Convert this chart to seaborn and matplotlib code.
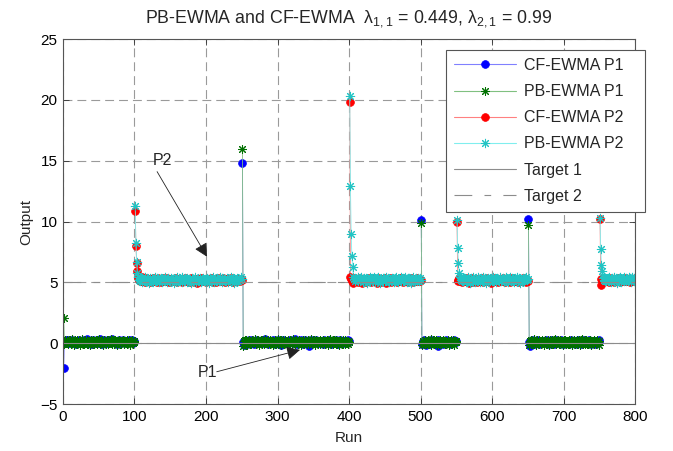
import numpy as np
import pandas as pd
import matplotlib
matplotlib.use("Agg")
import matplotlib.pyplot as plt
from matplotlib.lines import Line2D
import seaborn as sns

# ---- process schedule: (first run, last run) of each block ----
p1_blocks = [(1, 100), (251, 400), (501, 550), (651, 750)]
p2_blocks = [(101, 250), (401, 500), (551, 650), (751, 800)]

target_1 = 0.0
target_2 = 5.0

# ---- outputs, in hundredths above the process target, one string per block ----
cf_p1 = [
    """-200 15 8 22 4 11 30 9 -2 14 18 6 25 12 3 9 17 -5 10 21 7 13 28 5 16 11 -1 19 8 24
    14 2 35 10 6 20 13 9 -4 17 11 26 7 15 3 12 22 8 18 5 10 31 14 -3 9 19 6 23 12 16
    4 13 27 8 20 11 1 17 33 9 15 6 21 12 -6 14 10 25 7 18 3 16 11 29 8 13 20 5 -2 15
    9 24 12 7 18 10 22 4 14 11""",
    """1480 12 -18 5 20 9 14 -3 11 25 7 16 10 2 22 13 -5 18 8 12 28 6 15 11 -2 19 9 24 13 4
    17 10 31 7 14 -8 12 21 5 16 9 13 26 3 18 11 -4 15 8 22 12 6 19 14 -15 10 27 8 16 3
    13 20 9 -1 17 11 24 6 15 10 2 18 12 33 7 14 -6 20 9 13 16 4 22 11 -3 15 8 25 12 6
    19 10 14 -20 17 9 23 5 13 18 11 -2 16 28 8 14 10 3 21 12 7 17 -5 13 24 9 15 11 2 19
    12 30 6 16 -4 10 20 13 8 15 3 22 11 17 -9 14 9 26 12 5 18 10 15 -2 21 8 13 27 11 16""",
    """1015 -5 18 9 22 4 14 -12 11 20 7 15 -3 12 25 8 17 2 13 -8 19 10 6 23 -25 14 9 16 3 21
    11 -6 15 8 28 12 -2 17 10 5 20 13 -10 9 16 7 24 11 14 6""",
    """1020 8 -22 16 11 24 5 13 -4 19 10 14 27 7 -9 15 12 3 21 9 17 6 13 -2 25 11 8 18 -7 14
    10 22 4 16 12 -3 20 9 15 30 7 13 -1 18 11 24 6 14 -5 17 9 12 21 4 15 10 -8 19 13 7
    26 11 16 2 14 -4 20 8 12 23 5 17 10 -6 15 9 22 13 3 18 11 -2 16 8 27 12 6 14 -10 19
    10 15 4 21 12 -3 17 9 13 25""",
]

pb_p1 = [
    """210 -10 25 3 14 30 -8 18 6 22 -2 11 35 9 -12 20 4 16 28 -5 13 8 24 -15 19 10 32 1 15 -6
    21 7 12 27 -3 17 9 -18 23 14 5 29 -7 11 18 2 26 -10 16 8 33 -4 13 20 6 -14 24 10 17 -1
    28 12 -9 19 4 15 31 -6 22 9 14 -2 26 7 18 -11 12 30 3 16 -5 21 10 25 -8 14 19 2 27 -3
    11 23 6 -13 17 9 29 4 15 12""",
    """1600 -20 15 30 -5 22 8 -12 19 26 3 14 -9 28 11 -2 20 6 33 -7 16 24 1 -14 18 10 27 -4 13 21
    -10 9 31 5 17 -6 23 12 -1 29 8 15 -16 20 4 26 -3 11 18 35 -8 14 7 22 -11 16 30 2 -5 19
    25 9 -13 13 28 6 -2 21 10 -9 17 32 3 15 -7 24 11 -4 20 27 1 12 -15 18 8 29 -6 14 23 5
    -10 16 26 -3 19 9 31 -8 13 22 4 -12 17 28 7 -1 20 11 -6 25 14 2 30 -9 15 21 -4 10 27 6
    -13 18 12 33 -2 16 8 -10 24 19 3 26 -7 13 20 -15 11 29 5 17 -3 22 9 -8 28 14 1 19 -5 12""",
    """990 -15 20 8 -6 27 12 -10 18 4 25 -3 15 31 -12 9 22 2 -8 17 28 6 -14 13 19 -4 24 10 -9 16
    30 1 14 -7 21 11 -2 26 5 -11 18 23 -5 12 29 3 -13 20 9 15""",
    """970 -12 18 26 -4 14 8 31 -9 20 5 -16 23 11 -2 28 13 -7 17 24 2 -11 19 30 6 -5 15 22 -14 10
    27 -3 16 9 -8 25 12 33 -6 18 4 21 -10 14 29 -1 17 7 -13 23 11 26 -4 19 3 -9 24 15 -2 30
    8 -12 20 13 27 -6 16 1 22 -8 18 10 -15 25 6 32 -3 14 21 -10 12 28 -5 17 9 -1 24 -11 19 15
    3 26 -7 13 20 -4 29 10 -12 16""",
]

cf_p2 = [
    """590 300 160 90 38 22 15 30 8 25 44 12 20 35 5 18 27 10 31 16 24 2 29 14 19 36 9 22 13 28
    6 21 33 17 11 26 4 23 15 32 19 8 27 14 38 12 21 3 25 18 30 10 16 24 7 34 20 13 28 1
    22 17 31 9 26 15 5 29 19 12 36 23 8 21 14 27 2 18 33 11 25 16 6 30 20 13 24 -2 19 28
    10 22 35 15 7 26 18 12 31 4 23 17 29 9 21 14 37 11 25 6 19 28 13 3 24 16 32 10 20 15
    27 8 22 34 12 18 5 26 14 30 17 9 23 19 36 11 25 2 21 16 28 13 7 24 18 31 10 20 26 22""",
    """1480 40 30 12 25 -5 18 33 8 22 15 28 3 20 36 11 17 -2 26 14 9 31 19 6 24 13 38 10 21 16
    2 27 18 12 30 7 23 15 -4 20 34 11 25 17 5 29 14 21 8 32 19 -3 24 13 27 10 16 35 6 22
    18 28 9 14 31 20 2 25 12 17 37 8 23 15 -1 26 19 11 30 13 21 6 29 16 24 10 33 18 4 22
    14 27 9 20 32 12 17 25 7 19""",
    """500 10 22 35 10 27 15 4 30 18 12 25 38 8 20 14 29 -2 23 17 33 11 26 6 19 31 13 22 2 28
    16 9 24 36 12 20 5 27 15 21 10 32 18 7 25 14 30 -3 22 17 28 11 19 34 8 24 13 26 3 20
    16 29 10 23 37 12 18 6 27 15 21 9 31 17 4 25 14 33 11 19 26 7 22 15 30 -1 24 18 12 28
    20 13 35 10 23 16 5 27 19 14""",
    """520 -20 25 12 30 8 22 17 35 10 26 14 3 28 19 11 33 16 24 6 21 13 29 9 18 37 15 23 2 27 12
    20 31 7 25 16 10 34 19 14 22 28 5 18 26 11 30 17 23 36 40""",
]

pb_p2 = [
    """630 320 170 80 45 18 32 10 27 38 5 23 15 41 20 8 34 13 29 -3 24 36 11 19 30 2 26 43 14 21
    9 33 17 -1 28 22 39 6 25 16 31 12 44 19 3 27 35 10 22 15 37 7 24 30 -4 20 29 13 40 18
    8 33 23 11 26 42 1 21 16 34 14 28 5 38 19 25 9 31 -2 23 36 12 27 17 43 6 22 30 10 19
    26 35 3 24 14 39 18 7 29 21 11 32 25 -5 20 37 13 28 16 41 4 23 30 9 34 18 26 12 44 15
    21 2 36 19 27 8 31 14 24 38 6 29 17 22 40 11 25 33 -3 20 28 13 35 18 7 30 23 16 42 24""",
    """1530 790 400 220 130 48 25 36 12 30 18 41 7 27 33 15 44 22 3 29 38 11 24 35 -2 20 31 16 42 9
    26 37 14 23 45 5 28 19 34 10 40 21 30 -4 25 17 39 13 32 8 27 43 20 15 36 2 24 31 11 38
    19 28 6 34 22 46 14 25 -1 30 17 40 9 26 35 12 21 44 18 29 4 33 23 37 10 27 -3 31 16 42
    20 8 35 24 13 39 28 15 32 21""",
    """510 280 160 80 42 20 33 8 29 16 38 24 4 31 13 45 19 27 -2 35 10 22 40 15 28 6 36 21 12 43
    18 30 1 25 37 14 23 46 9 32 20 -4 27 39 16 24 11 34 29 7 41 22 15 33 26 3 38 18 30 12
    44 21 9 28 35 17 -1 24 40 13 31 6 26 19 42 23 10 36 15 29 2 34 20 27 45 11 25 38 -3 22
    30 14 37 18 8 32 26 41 16 24""",
    """530 270 145 90 38 22 44 15 30 8 27 36 12 41 19 25 3 33 17 46 10 28 21 39 -2 24 35 14 42 18
    6 31 26 13 44 20 37 9 29 23 40 16 32 5 27 43 19 34 11 25""",
]

series_names = ["CF-EWMA P1", "PB-EWMA P1", "CF-EWMA P2", "PB-EWMA P2"]


def to_frame(blocks, texts, target):
    rows = []
    for seg, ((start, stop), txt) in enumerate(zip(blocks, texts)):
        vals = [int(v) for v in txt.split()][: stop - start + 1]
        for k, v in enumerate(vals):
            rows.append((start + k, target + v / 100.0, seg))
    return pd.DataFrame(rows, columns=["run", "output", "seg"])


frames = [
    to_frame(p1_blocks, cf_p1, target_1),
    to_frame(p1_blocks, pb_p1, target_1),
    to_frame(p2_blocks, cf_p2, target_2),
    to_frame(p2_blocks, pb_p2, target_2),
]

# ---- styling ----
sns.set_theme(style="white")
plt.rcParams["font.family"] = ["Liberation Sans", "DejaVu Sans"]
plt.rcParams["mathtext.fontset"] = "custom"
plt.rcParams["mathtext.rm"] = "Liberation Sans"
plt.rcParams["mathtext.it"] = "Liberation Sans"

asterisk = (8, 2, 0)
styles = [
    dict(line="#8080ff", marker="o", mfc="#0000ff", mec="#0000ff", ms=5.6, mew=0.5),
    dict(line="#80c080", marker=asterisk, mfc="none", mec="#007000", ms=6.2, mew=0.75),
    dict(line="#ff8080", marker="o", mfc="#ff0000", mec="#ff0000", ms=5.6, mew=0.5),
    dict(line="#80eeee", marker=asterisk, mfc="none", mec="#22c4c4", ms=6.6, mew=0.75),
]
target2_dash = (0, (16, 11, 6, 11))

fig = plt.figure(figsize=(6.73, 4.51), dpi=100)
ax = fig.add_axes([0.0936, 0.1042, 0.85, 0.8093])

ax.set_xlim(0, 800)
ax.set_ylim(-5, 25)
ax.set_xticks(np.arange(0, 801, 100))
ax.set_yticks(np.arange(-5, 26, 5))
ax.grid(True, color="#9a9a9a", linestyle=(0, (8, 4.5)), linewidth=0.8)
ax.set_axisbelow(True)

for df, st in zip(frames, styles):
    sns.lineplot(
        data=df, x="run", y="output", units="seg", estimator=None, ax=ax,
        color=st["line"], linewidth=0.6, marker=st["marker"],
        markerfacecolor=st["mfc"], markeredgecolor=st["mec"],
        markersize=st["ms"], markeredgewidth=st["mew"], legend=False,
    )

ax.axhline(target_1, color="#8c8c8c", linewidth=0.8, linestyle="-")
ax.axhline(target_2, color="#8c8c8c", linewidth=0.8, linestyle=target2_dash)

# arrows naming the two processes
arrow_kw = dict(arrowstyle="-|>,head_length=0.9,head_width=0.45", color="#222222",
                lw=0.6, mutation_scale=9, shrinkA=0, shrinkB=0)
ax.text(139, 15.0, "P2", ha="center", va="center", fontsize=11.5)
ax.annotate("", xy=(201.5, 7.1), xytext=(131.6, 14.1), arrowprops=arrow_kw)
ax.text(202, -2.45, "P1", ha="center", va="center", fontsize=11.5)
ax.annotate("", xy=(331.5, -0.55), xytext=(215, -2.35), arrowprops=arrow_kw)

ax.set_title("PB-EWMA and CF-EWMA  λ$_{1,1}$ = 0.449, λ$_{2,1}$ = 0.99",
             fontsize=12.8, pad=12)
ax.set_xlabel("Run", fontsize=11, labelpad=5)
ax.set_ylabel("Output", fontsize=11, labelpad=5)

ax.tick_params(direction="in", length=4, width=0.6, colors="#333333",
               labelcolor="black", labelsize=11, top=True, right=True,
               bottom=True, left=True, pad=4)
for sp in ax.spines.values():
    sp.set_color("#555555")
    sp.set_linewidth(0.8)

handles = [
    Line2D([], [], color=st["line"], lw=0.8, marker=st["marker"], mfc=st["mfc"],
           mec=st["mec"], ms=st["ms"], mew=st["mew"])
    for st in styles
]
handles.append(Line2D([], [], color="#8c8c8c", lw=0.8, linestyle="-"))
handles.append(Line2D([], [], color="#8c8c8c", lw=0.8, linestyle=target2_dash))
labels = [s + "   " for s in series_names + ["Target 1", "Target 2"]]
leg = ax.legend(handles, labels, loc="upper right", bbox_to_anchor=(1.0175, 0.970),
                borderaxespad=0, fontsize=11.5, handlelength=3.9, handletextpad=0.5,
                labelspacing=0.70, borderpad=0.5, fancybox=False, framealpha=1,
                edgecolor="#555555")
leg.get_frame().set_linewidth(0.8)

fig.savefig("out.png", dpi=100)
